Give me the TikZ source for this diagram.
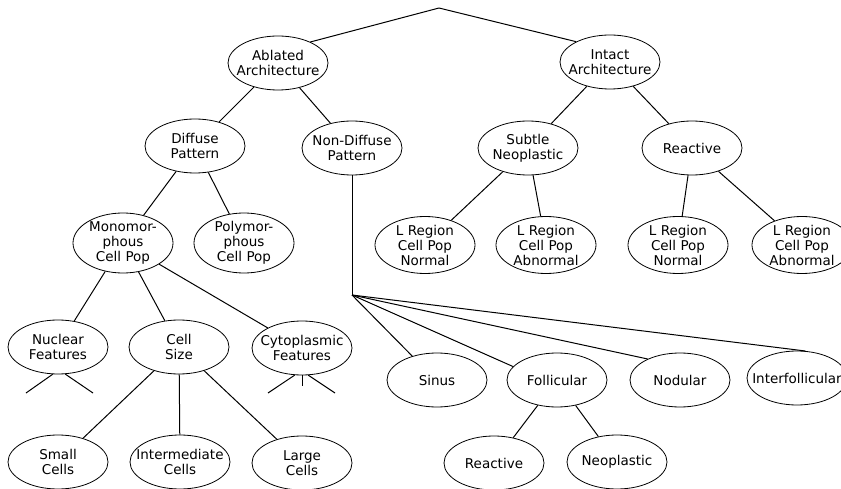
\documentclass[tikz,border=0pt]{standalone}
\usepackage{fontspec}
\setmainfont{DejaVu Sans}
\usetikzlibrary{shapes.geometric}
\begin{document}
\begin{tikzpicture}[x=1pt,y=-1pt,
  ell/.style={draw, ellipse, line width=0.8pt, minimum width=100pt, minimum height=54pt, inner sep=0pt},
  tall/.style={minimum height=60pt},
  mid/.style={minimum height=57pt},
  lbl/.style={inner sep=0pt, align=center, font=\fontsize{13.5}{15}\selectfont},
  conn/.style={line width=1pt}]
\useasboundingbox (0,0) rectangle (841,489);

% ellipses
\node[ell] (abl) at (278,63) {};
\node[ell] (int) at (610,62) {};
\node[ell] (dif) at (195,146) {};
\node[ell] (ndf) at (352,148) {};
\node[ell] (sub) at (528,148) {};
\node[ell] (rea) at (692,148) {};
\node[ell,tall] (mono) at (123,243) {};
\node[ell,tall] (poly) at (244,243) {};
\node[ell,mid] (lra) at (425,245) {};
\node[ell,mid] (lrb) at (546,245) {};
\node[ell,mid] (lrc) at (678,245) {};
\node[ell,mid] (lrd) at (802,245) {};
\node[ell] (nuc) at (58,347) {};
\node[ell] (csz) at (179,347) {};
\node[ell] (cyt) at (302,348) {};
\node[ell] (sml) at (58,462) {};
\node[ell] (imd) at (180,462) {};
\node[ell] (lrg) at (302,463) {};
\node[ell] (sin) at (437,380) {};
\node[ell] (fol) at (557,380) {};
\node[ell] (nod) at (680,380) {};
\node[ell] (itf) at (797,378) {};
\node[ell] (rcb) at (494,463) {};
\node[ell] (neo) at (617,462) {};

% texts
\node[lbl] (ablT) at (abl) {Ablated\\Architecture};
\node[lbl] (intT) at (int) {Intact\\Architecture};
\node[lbl] (difT) at (dif) {Diffuse\\Pattern};
\node[lbl] (ndfT) at (ndf) {Non-Diffuse\\Pattern};
\node[lbl] (subT) at (sub) {Subtle\\Neoplastic};
\node[lbl] (reaT) at (rea) {Reactive};
\node[lbl] (monoT) at (mono) {Monomor-\\phous\\Cell Pop};
\node[lbl] (polyT) at (poly) {Polymor-\\phous\\Cell Pop};
\node[lbl] (lraT) at (lra) {L Region\\Cell Pop\\Normal};
\node[lbl] (lrbT) at (lrb) {L Region\\Cell Pop\\Abnormal};
\node[lbl] (lrcT) at (lrc) {L Region\\Cell Pop\\Normal};
\node[lbl] (lrdT) at (lrd) {L Region\\Cell Pop\\Abnormal};
\node[lbl] (nucT) at (nuc) {Nuclear\\Features};
\node[lbl] (cszT) at (csz) {Cell\\Size};
\node[lbl] (cytT) at (cyt) {Cytoplasmic\\Features};
\node[lbl] (smlT) at (sml) {Small\\Cells};
\node[lbl] (imdT) at (imd) {Intermediate\\Cells};
\node[lbl] (lrgT) at (lrg) {Large\\Cells};
\node[lbl] (sinT) at (sin) {Sinus};
\node[lbl] (folT) at (fol) {Follicular};
\node[lbl] (nodT) at (nod) {Nodular};
\node[lbl] (itfT) at (itf) {Interfollicular};
\node[lbl] (rcbT) at (rcb) {Reactive};
\node[lbl] (neoT) at (neo) {Neoplastic};

% free points
\coordinate (root) at (439,8);
\coordinate (hub) at (352,295);
\coordinate (nsa) at (26,393);
\coordinate (nsb) at (93,393);
\coordinate (csa) at (268,393);
\coordinate (csb) at (302,386);
\coordinate (csc) at (335,393);

% connectors
\draw[conn] (root) -- (abl.33);
\draw[conn] (root) -- (int.149);
\draw[conn] (abl) -- (dif);
\draw[conn] (abl) -- (ndf);
\draw[conn] (int) -- (sub);
\draw[conn] (int) -- (rea);
\draw[conn] (dif) -- (mono);
\draw[conn] (dif) -- (poly);
\draw[conn] (sub) -- (lra);
\draw[conn] (sub) -- (lrb);
\draw[conn] (rea) -- (lrc);
\draw[conn] (rea) -- (lrd);
\draw[conn] (mono) -- (nuc);
\draw[conn] (mono) -- (csz);
\draw[conn] (mono) -- (cyt);
\draw[conn] (csz) -- (sml);
\draw[conn] (csz) -- (imd);
\draw[conn] (csz) -- (lrg);
\draw[conn] (ndf.south) -- (hub);
\draw[conn] (hub) -- (sin.136);
\draw[conn] (hub) -- (fol.163);
\draw[conn] (hub) -- (nod.147);
\draw[conn] (hub) -- (itf.73);
\draw[conn] (fol) -- (rcb);
\draw[conn] (fol) -- (neo);
\draw[conn] (nuc.259) -- (nsa);
\draw[conn] (nuc.285) -- (nsb);
\draw[conn] (cyt.255) -- (csa);
\draw[conn] (cyt.south) -- (csb);
\draw[conn] (cyt.283) -- (csc);
\end{tikzpicture}
\end{document}
